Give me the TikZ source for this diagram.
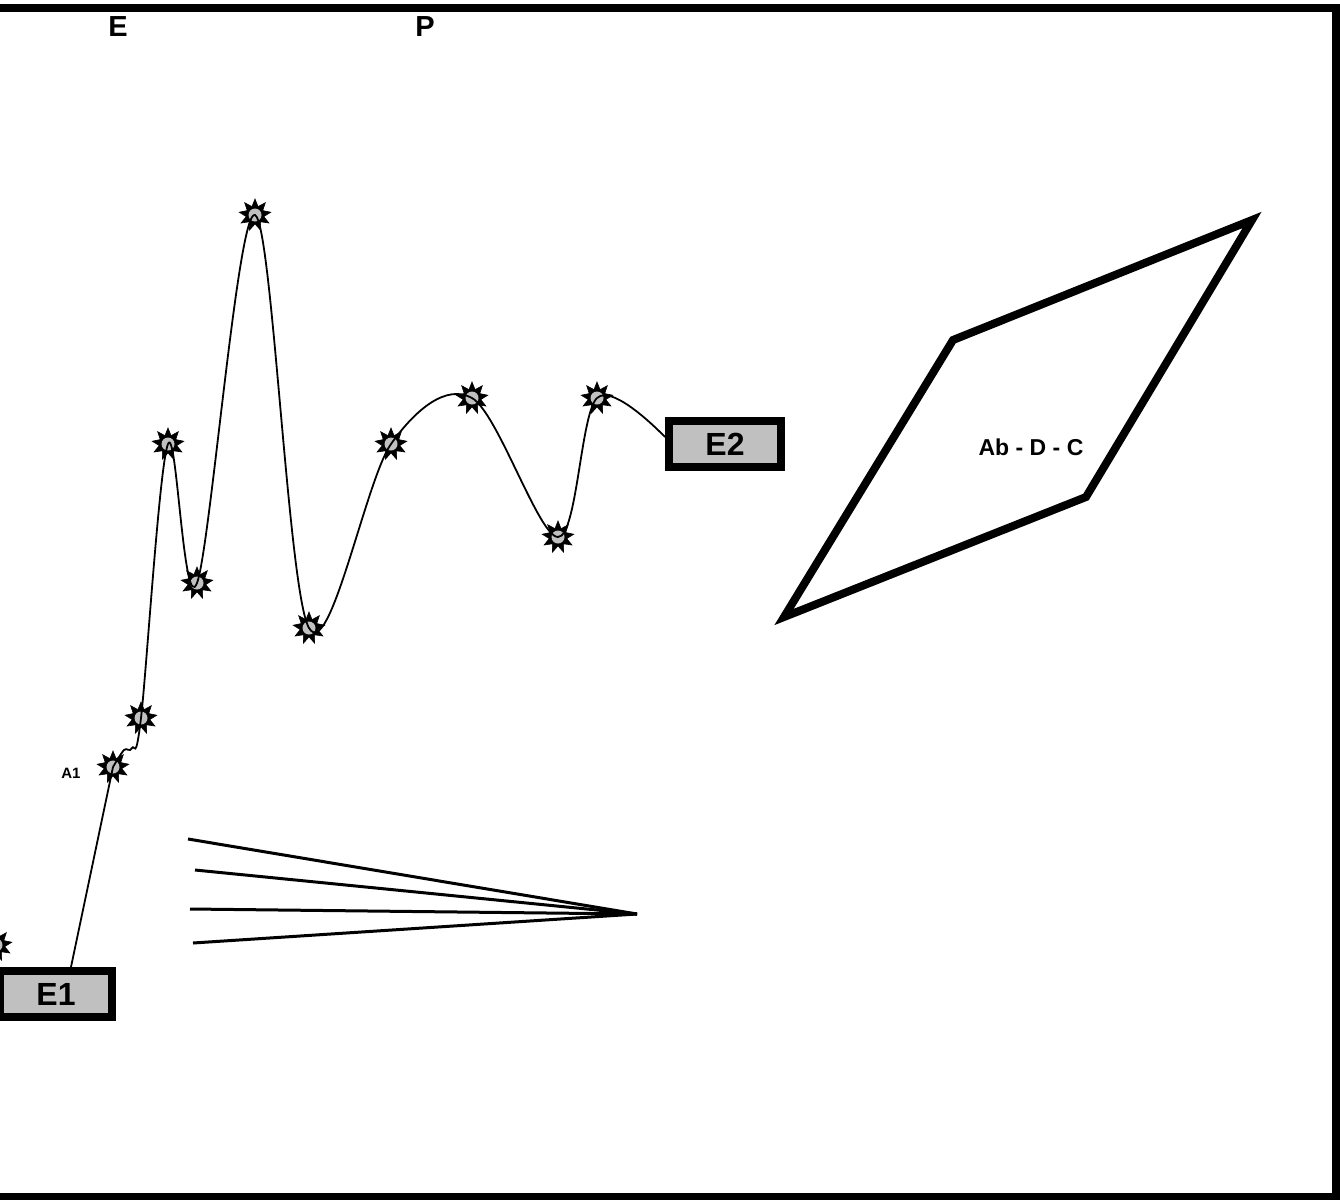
\documentclass[tikz,border=0pt]{standalone}
\usepackage{fontspec}
\setmainfont{Liberation Sans}
\usetikzlibrary{shapes.geometric,calc}
\definecolor{boxgray}{RGB}{192,192,192}
\tikzset{
  sparkle/.style={star, star points=9, star point ratio=1.8, minimum size=32pt, inner sep=0pt,
    fill=black, draw=black, line width=0.6pt},
  core/.style={fill=boxgray},
  ebox/.style={draw=black, fill=boxgray, line width=8pt, minimum width=112pt, minimum height=46pt,
    inner sep=0pt, font=\bfseries\fontsize{32}{32}\selectfont},
  curve/.style={line width=1.8pt, black},
  fanline/.style={line width=3pt, black},
  hdr/.style={font=\bfseries\fontsize{29}{29}\selectfont, inner sep=0pt}
}
\begin{document}
\begin{tikzpicture}[x=1pt,y=-1pt]
\useasboundingbox (0,0) rectangle (1340,1199);
\clip (0,0) rectangle (1340,1199);
% frame
\draw[line width=8pt] (-20,8) rectangle (1336,1197);
% headers
\node[hdr] (hE) at (118,27) {E};
\node[hdr] (hP) at (425,27) {P};
% boxes
\node[ebox] (E1) at (56,994) {E1};
\node[ebox] (E2) at (725,444) {E2};
% stars
\node[sparkle] (s0) at (-4,945) {};
\node[sparkle] (A1) at (113,767) {};
\node[sparkle] (s2) at (141,718) {};
\node[sparkle] (s3) at (168,444) {};
\node[sparkle] (s4) at (197,583) {};
\node[sparkle] (s5) at (255,215) {};
\node[sparkle] (s6) at (309,628) {};
\node[sparkle] (s7) at (391,444) {};
\node[sparkle] (s8) at (472,398) {};
\node[sparkle] (s9) at (558,537) {};
\node[sparkle] (s10) at (597,398) {};
\foreach \s in {s0,A1,s2,s3,s4,s5,s6,s7,s8,s9,s10}
  \fill[core] (\s.center) circle (6.5pt);
\node[font=\bfseries\fontsize{15}{15}\selectfont, inner sep=0pt] (lA1) at (71,773) {A1};
% curve
\coordinate (e1top) at ($(E1.north)+(15,0)$);
\coordinate (w1) at (124,750);
\coordinate (w2) at (132,748);
\coordinate (e2in) at ($(E2.west)+(0,-7)$);
\draw[curve] (e1top) -- (A1.center);
\draw[curve] plot[smooth, tension=0.55] coordinates {(A1.center) (w1) (w2) (s2.center) (s3.center) (s4.center) (s5.center) (s6.center) (s7.center) (s8.center) (s9.center) (s10.center) (e2in)};
% fan
\coordinate (fan) at (637,914);
\coordinate (f1) at (188,839);
\coordinate (f2) at (195,870);
\coordinate (f3) at (190,909);
\coordinate (f4) at (193,943);
\draw[fanline] (f1) -- (fan);
\draw[fanline] (f2) -- (fan);
\draw[fanline] (f3) -- (fan);
\draw[fanline] (f4) -- (fan);
% parallelogram
\coordinate (p1) at (953,340);
\coordinate (p2) at (1252,220);
\coordinate (p3) at (1086,497);
\coordinate (p4) at (784,617);
\draw[line width=8pt, line join=miter] (p1) -- (p2) -- (p3) -- (p4) -- cycle;
\node[font=\bfseries\fontsize{23}{23}\selectfont, inner sep=0pt] (abdc) at (1031,447) {Ab - D - C};
\end{tikzpicture}
\end{document}
